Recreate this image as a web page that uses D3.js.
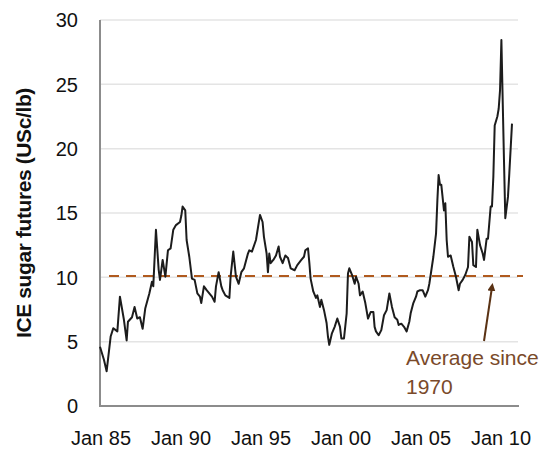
<!DOCTYPE html>
<html>
<head>
<meta charset="utf-8">
<script src="https://cdn.jsdelivr.net/npm/d3@7"></script>
<style>
  body { margin: 0; background: #fff; }
  text { font-family: "Liberation Sans", Arial, sans-serif; }
</style>
</head>
<body>
<div id="chart"></div>
<script>
// monthly ICE sugar futures
const months = [
  "1985-01","1985-04","1985-06","1985-09","1985-11","1986-02","1986-04","1986-07","1986-09","1986-10",
  "1987-01","1987-03","1987-05","1987-07","1987-09","1987-11","1988-02","1988-04","1988-05","1988-07",
  "1988-09","1988-10","1988-12","1989-02","1989-04","1989-06","1989-08","1989-10","1990-01","1990-02",
  "1990-03","1990-05","1990-06","1990-08","1990-10","1990-12","1991-02","1991-04","1991-05","1991-07",
  "1991-09","1991-11","1992-01","1992-03","1992-04","1992-06","1992-08","1992-09","1992-11","1993-02",
  "1993-03","1993-05","1993-07","1993-09","1993-11","1994-01","1994-04","1994-05","1994-07","1994-10",
  "1995-01","1995-03","1995-04","1995-06","1995-07","1995-08","1995-09","1995-11","1996-01","1996-03",
  "1996-04","1996-06","1996-08","1996-10","1996-12","1997-03","1997-05","1997-08","1997-10","1997-11",
  "1998-01","1998-02","1998-03","1998-05","1998-07","1998-08","1998-10","1998-11","1999-01","1999-03",
  "1999-04","1999-05","1999-07","1999-09","1999-11","2000-01","2000-02","2000-04","2000-06","2000-07",
  "2000-08","2000-10","2000-12","2001-01","2001-03","2001-04","2001-06","2001-08","2001-10","2001-12",
  "2002-02","2002-03","2002-04","2002-06","2002-08","2002-10","2002-12","2003-02","2003-04","2003-06",
  "2003-08","2003-09","2003-11","2004-01","2004-03","2004-05","2004-06","2004-08","2004-10","2004-11",
  "2005-01","2005-03","2005-05","2005-07","2005-08","2005-09","2005-11","2006-01","2006-02","2006-03",
  "2006-04","2006-05","2006-07","2006-08","2006-09","2006-10","2006-12","2007-02","2007-04","2007-06",
  "2007-07","2007-09","2007-11","2008-01","2008-02","2008-04","2008-05","2008-07","2008-08","2008-10",
  "2008-12","2009-01","2009-03","2009-04","2009-06","2009-07","2009-08","2009-09","2009-11","2009-12",
  "2010-01","2010-02","2010-04","2010-05","2010-07","2010-08","2010-10"
];
const prices = [
  4.6, 3.6, 2.7, 5.4, 6.05, 5.8, 8.5, 6.7, 5.1, 6.55,
  6.9, 7.7, 6.8, 6.9, 6.0, 7.6, 8.75, 9.65, 9.3, 13.7,
  10.6, 9.8, 11.35, 10.05, 12.1, 12.25, 13.7, 14.06, 14.3, 14.8,
  15.5, 15.2, 12.9, 11.6, 9.9, 9.8, 8.75, 8.5, 8.0, 9.3,
  9.0, 8.75, 8.5, 8.1, 9.3, 10.4, 9.3, 9.0, 8.6, 8.4,
  10.05, 12.0, 10.05, 9.5, 10.4, 10.7, 11.85, 12.1, 12.0, 12.9,
  14.85, 14.3, 13.15, 11.85, 10.4, 11.85, 11.1, 11.35, 11.7, 12.4,
  11.6, 11.1, 11.7, 11.5, 10.7, 10.55, 10.95, 11.35, 11.6, 12.1,
  12.25, 11.1, 9.9, 8.9, 8.4, 8.6, 7.7, 8.25, 7.45, 6.45,
  5.4, 4.75, 5.65, 6.15, 6.8, 6.15, 5.25, 5.25, 7.2, 10.3,
  10.7, 10.2, 9.5, 10.05, 9.5, 8.6, 8.9, 8.0, 6.8, 7.3,
  7.3, 6.15, 5.8, 5.5, 5.9, 7.05, 7.45, 8.75, 7.7, 6.9,
  6.7, 6.3, 6.4, 6.15, 5.8, 6.55, 7.2, 8.0, 8.5, 8.9,
  9.0, 9.0, 8.5, 9.0, 9.5, 10.2, 11.6, 13.4, 16.0, 17.95,
  17.2, 17.2, 15.2, 15.75, 12.9, 11.6, 11.7, 10.8, 10.05, 9.0,
  9.5, 9.8, 10.2, 10.8, 13.15, 12.75, 10.95, 10.8, 13.7, 12.5,
  11.85, 11.35, 13.0, 13.0, 15.5, 15.5, 17.8, 21.8, 22.5, 23.1,
  24.55, 28.45, 19.1, 14.6, 16.25, 18.1, 21.95
];
const averageSince1970 = 10.1;
const yTicks = [0, 5, 10, 15, 20, 25, 30];
const xTickYears = [1985, 1990, 1995, 2000, 2005, 2010];
const xTickLabels = ["Jan 85", "Jan 90", "Jan 95", "Jan 00", "Jan 05", "Jan 10"];

const width = 548, height = 450;
const parse = d3.timeParse("%Y-%m");
const data = months.map((m, i) => ({ date: parse(m), value: prices[i] }));

const svg = d3.select("#chart").append("svg")
    .attr("width", width)
    .attr("height", height);

const x = d3.scaleTime()
    .domain([new Date(1985, 0, 1), new Date(2011, 1, 15)])
    .range([100, 518]);
const y = d3.scaleLinear()
    .domain([0, 30])
    .range([406, 20]);

// gridlines
svg.append("g")
    .selectAll("line")
    .data(yTicks.filter(d => d > 0))
    .join("line")
    .attr("x1", 100).attr("x2", 518)
    .attr("y1", d => y(d)).attr("y2", d => y(d))
    .style("stroke", "#e4e4e4")
    .style("stroke-width", 1.5);

// y tick labels
svg.append("g")
    .selectAll("text")
    .data(yTicks)
    .join("text")
    .attr("x", 78)
    .attr("y", d => y(d))
    .attr("dy", "0.36em")
    .attr("text-anchor", "end")
    .style("font-size", "20px")
    .style("fill", "#111")
    .text(d => d);

// x tick labels
svg.append("g")
    .selectAll("text")
    .data(xTickYears)
    .join("text")
    .attr("x", d => x(new Date(d, 0, 1)) + 1)
    .attr("y", 445)
    .attr("text-anchor", "middle")
    .style("font-size", "20px")
    .style("fill", "#111")
    .text((d, i) => xTickLabels[i]);

// axes lines
svg.append("path")
    .attr("d", "M100,20V406H519")
    .style("fill", "none")
    .style("stroke", "#8c8c8c")
    .style("stroke-width", 2);

// average line
svg.append("line")
    .attr("x1", 109).attr("x2", 523)
    .attr("y1", y(averageSince1970)).attr("y2", y(averageSince1970))
    .style("stroke", "#b05a1e")
    .style("stroke-width", 2)
    .style("stroke-dasharray", "10,7");

// price line
svg.append("path")
    .datum(data)
    .attr("d", d3.line().x(d => x(d.date)).y(d => y(d.value)))
    .style("fill", "none")
    .style("stroke", "#1c1c1c")
    .style("stroke-width", 2)
    .style("stroke-linejoin", "round");

// annotation arrow
svg.append("defs").append("marker")
    .attr("id", "arrow")
    .attr("viewBox", "0 0 10 10")
    .attr("refX", 5).attr("refY", 5)
    .attr("markerWidth", 4).attr("markerHeight", 4)
    .attr("orient", "auto")
    .append("path")
    .attr("d", "M0,0L10,5L0,10Z")
    .style("fill", "#5a3214");

svg.append("line")
    .attr("x1", 484).attr("y1", 341)
    .attr("x2", 492).attr("y2", 287)
    .style("stroke", "#5a3214")
    .style("stroke-width", 2)
    .attr("marker-end", "url(#arrow)");

svg.append("text")
    .attr("x", 406).attr("y", 365)
    .style("font-size", "21px")
    .style("fill", "#7a4a2a")
    .text("Average since");
svg.append("text")
    .attr("x", 406).attr("y", 394)
    .style("font-size", "21px")
    .style("fill", "#7a4a2a")
    .text("1970");

// y axis title
svg.append("text")
    .attr("transform", "translate(31,213) rotate(-90)")
    .attr("text-anchor", "middle")
    .style("font-size", "21px")
    .style("font-weight", "bold")
    .style("letter-spacing", "-0.4px")
    .style("fill", "#111")
    .text("ICE sugar futures (USc/lb)");
</script>
</body>
</html>
